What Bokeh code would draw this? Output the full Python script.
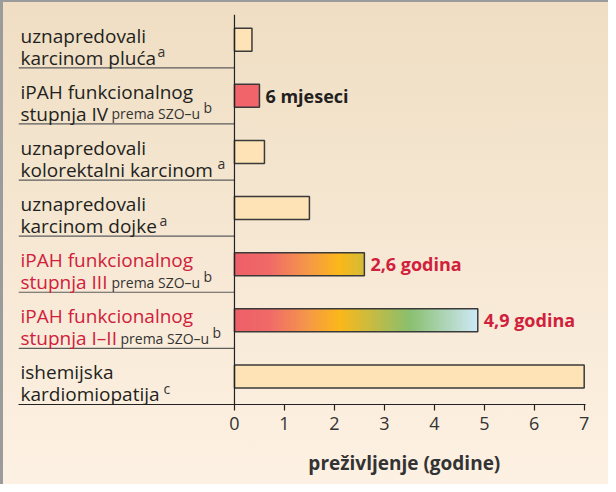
import numpy as np
from bokeh.plotting import figure
from bokeh.models import ColumnDataSource, FixedTicker, Span, InlineStyleSheet
from bokeh.core.properties import value
from bokeh.embed import file_html
from bokeh.resources import INLINE

# ---------------- data (top row first) ----------------
label_line1 = ["uznapredovali", "iPAH funkcionalnog", "uznapredovali", "uznapredovali",
               "iPAH funkcionalnog", "iPAH funkcionalnog", "ishemijska"]
label_line2 = ["karcinom pluća", "stupnja IV", "kolorektalni karcinom", "karcinom dojke",
               "stupnja III", "stupnja I–II", "kardiomiopatija"]
label_suffix = ["", "prema SZO–u", "", "", "prema SZO–u", "prema SZO–u", ""]
footnote = ["a", "b", "a", "a", "b", "b", "c"]
survival_years = [0.35, 0.5, 0.6, 1.5, 2.6, 4.87, 7.0]
value_labels = ["", "6 mjeseci", "", "", "2,6 godina", "4,9 godina", ""]
is_ipah = [False, True, False, False, True, True, False]
red_label = [False, False, False, False, True, True, False]
gradient_bar = [False, False, False, False, True, True, False]
tick_values = [0, 1, 2, 3, 4, 5, 6, 7]
axis_title = "preživljenje (godine)"

# ---------------- style ----------------
DARK = "#231f20"
RED = "#d0203b"
GREY_TXT = "#333333"
PEACH = "#fde3b5"
RED_BAR = "#f0646a"
OUTLINE = "#3a3a3a"
grad_stops_x = [0.0, 0.7, 1.4, 2.1, 3.5, 4.87]
grad_stops_col = ["#ee5f68", "#f06a68", "#f5944c", "#fbb81a", "#8abf6e", "#cde9f7"]
suffix_dx = [0, 93, 0, 0, 93, 102, 0]
foot_dx = [139, 185, 199, 141, 185, 194, 145]
FONT = value("Open Sans")

X_START, X_END = -4.323, 7.026
Y_END = 6.95
PX_PER_Y = 56.1

n = len(survival_years)
y_center = [n - 1 - i + 0.5 for i in range(n)]

p = figure(width=608, height=484, output_backend="svg", toolbar_location=None,
           x_range=(X_START, X_END), y_range=(0, Y_END),
           min_border_left=18, min_border_right=23, min_border_top=14, min_border_bottom=80,
           y_axis_location=None)
p.outline_line_color = None
p.grid.visible = False
p.background_fill_alpha = 0
p.border_fill_alpha = 0
p.stylesheets = [InlineStyleSheet(css=":host { background: linear-gradient(180deg, #efdec3 0%, #fdf1e3 100%); box-shadow: inset 3px 2px 0 #9b9b9b; }")]

# ---------------- bars ----------------
def hex2rgb(h):
    return np.array([int(h[i:i + 2], 16) for i in (1, 3, 5)], dtype=float)

stop_rgb = np.array([hex2rgb(c) for c in grad_stops_col])

def grad_color(x):
    rgb = [np.interp(x, grad_stops_x, stop_rgb[:, k]) for k in range(3)]
    return "#%02x%02x%02x" % tuple(int(round(v)) for v in rgb)

BAR_H = 0.41
solid = dict(left=[], right=[], top=[], bottom=[], color=[])
gl, gr, gt, gb, gc = [], [], [], [], []
for i in range(n):
    yc, v = y_center[i], survival_years[i]
    if gradient_bar[i]:
        edges = np.linspace(0, v, 100)
        for a, b in zip(edges[:-1], edges[1:]):
            # each slice runs to the bar end; later slices cover earlier ones (no seams)
            gl.append(a); gr.append(v); gt.append(yc + BAR_H / 2); gb.append(yc - BAR_H / 2)
            gc.append(grad_color((a + b) / 2))
    else:
        solid["left"].append(0); solid["right"].append(v)
        solid["top"].append(yc + BAR_H / 2); solid["bottom"].append(yc - BAR_H / 2)
        solid["color"].append(RED_BAR if is_ipah[i] else PEACH)

p.quad(left=gl, right=gr, top=gt, bottom=gb, fill_color=gc, line_color=None)
p.quad(left="left", right="right", top="top", bottom="bottom", fill_color="color",
       line_color=None, source=ColumnDataSource(solid))
p.quad(left=[0] * n, right=survival_years, top=[y + BAR_H / 2 for y in y_center],
       bottom=[y - BAR_H / 2 for y in y_center], fill_color=None,
       line_color=OUTLINE, line_width=1.5)

# separators between rows & vertical axis line
p.segment(x0=[X_START] * (n - 1), x1=[0] * (n - 1), y0=list(range(1, n)), y1=list(range(1, n)),
          line_color="#5c5c5c", line_width=1.2)
p.add_layout(Span(location=0, dimension="height", line_color="#222222", line_width=1.2))

# ---------------- category labels ----------------
src = ColumnDataSource(dict(
    x=[X_START] * n, y=y_center, l1=label_line1, l2=label_line2, suf=label_suffix,
    fn=footnote, col=[RED if r else DARK for r in red_label],
    sdx=suffix_dx, fdx=foot_dx))
p.text(x="x", y="y", text="l1", x_offset=2, y_offset=-4, text_font=FONT, text_font_size="19px",
       text_color="col", text_baseline="alphabetic", source=src)
p.text(x="x", y="y", text="l2", x_offset=2, y_offset=18, text_font=FONT, text_font_size="19px",
       text_color="col", text_baseline="alphabetic", source=src)
p.text(x="x", y="y", text="suf", x_offset="sdx", y_offset=18, text_font=FONT, text_font_size="14px",
       text_color=GREY_TXT, text_baseline="alphabetic", source=src)
p.text(x="x", y="y", text="fn", x_offset="fdx", y_offset=12, text_font=FONT, text_font_size="14px",
       text_color=GREY_TXT, text_baseline="alphabetic", source=src)

# value labels
vsrc = ColumnDataSource(dict(x=survival_years, y=y_center, t=value_labels,
                             c=[RED if r else DARK for r in red_label]))
p.text(x="x", y="y", text="t", x_offset=6, text_font=FONT, text_font_size="18px",
       text_font_style="bold", text_color="c", text_baseline="middle", source=vsrc)

# ---------------- axis ----------------
ax = p.xaxis[0]
ax.ticker = FixedTicker(ticks=tick_values)
ax.axis_line_color = "#222222"
ax.axis_line_width = 1.2
ax.major_tick_line_color = "#222222"
ax.major_tick_line_width = 1.2
ax.major_tick_out = 6
ax.major_tick_in = 0
ax.minor_tick_line_color = None
ax.major_label_text_font = "Open Sans"
ax.major_label_text_font_size = "18px"
ax.major_label_text_color = GREY_TXT
ax.major_label_standoff = 6

# axis title, centred under the tick range (overlay level so it is not clipped)
p.text(x=[float(np.mean(tick_values))], y=[0.0], text=[axis_title], x_offset=-5, y_offset=58,
       text_font=FONT, text_font_size="19px", text_font_style="bold", text_color=GREY_TXT,
       text_align="center", text_baseline="middle", level="overlay")

open("out.html", "w").write(file_html(p, INLINE))
